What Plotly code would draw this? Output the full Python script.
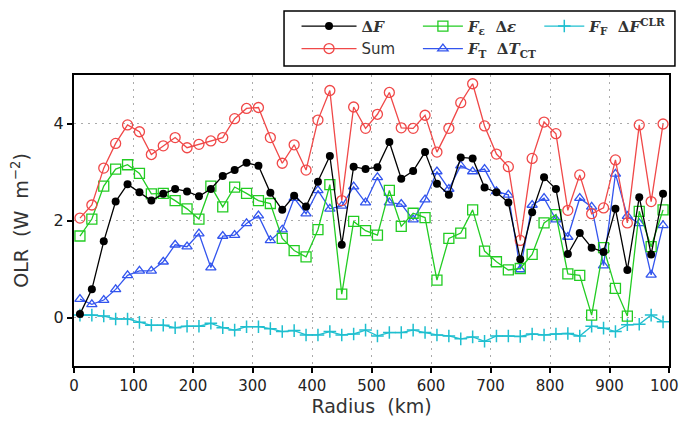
import plotly.graph_objects as go

radius = [10 + 20 * i for i in range(50)]

delta_f = [0.07, 0.58, 1.57, 2.39, 2.75, 2.58, 2.41, 2.55, 2.65, 2.60, 2.50, 2.65, 2.92, 3.04, 3.19, 3.13,
           2.57, 2.22, 2.51, 2.29, 2.80, 3.33, 1.50, 3.11, 3.06, 3.10, 3.62, 2.86, 3.02, 3.41, 2.76, 2.53,
           3.30, 3.28, 2.68, 2.58, 2.37, 1.20, 2.17, 2.89, 2.65, 1.31, 1.74, 1.44, 1.35, 2.24, 0.98, 2.48, 1.30, 2.55]

sum_vals = [2.05, 2.32, 3.08, 3.59, 3.97, 3.83, 3.36, 3.54, 3.71, 3.50, 3.57, 3.64, 3.71, 4.10, 4.31, 4.33,
            3.71, 3.18, 3.56, 3.04, 4.07, 4.68, 2.41, 4.34, 3.90, 4.19, 4.64, 3.91, 3.90, 4.17, 3.41, 3.90,
            4.43, 4.82, 3.95, 3.37, 3.11, 1.59, 3.28, 4.03, 3.79, 2.21, 2.94, 2.14, 2.26, 3.25, 1.95, 3.97, 2.39, 3.99]

f_eps = [1.68, 2.03, 2.71, 3.06, 3.15, 2.97, 2.55, 2.56, 2.41, 2.24, 2.03, 2.71, 2.28, 2.69, 2.56, 2.41,
         2.35, 1.63, 1.38, 1.25, 1.81, 2.74, 0.48, 1.98, 1.79, 1.70, 2.62, 1.88, 2.15, 2.06, 0.77, 1.63,
         1.74, 2.22, 1.37, 1.15, 0.98, 1.01, 1.30, 1.95, 2.12, 0.90, 0.87, 0.05, 1.44, 0.60, 0.03, 2.19, 1.46, 2.22]

f_t = [0.38, 0.27, 0.36, 0.58, 0.87, 0.96, 0.96, 1.15, 1.50, 1.46, 1.73, 1.03, 1.68, 1.70, 1.94, 2.10,
       1.59, 1.81, 2.46, 2.14, 2.62, 2.24, 2.30, 2.70, 2.37, 2.89, 2.37, 2.34, 2.02, 2.43, 3.01, 2.65,
       3.13, 3.01, 3.06, 2.60, 2.53, 0.99, 2.32, 2.46, 2.02, 1.66, 2.46, 2.28, 1.07, 2.96, 2.09, 1.94, 0.88, 1.90]

f_f = [0.05, 0.05, 0.03, -0.03, -0.03, -0.10, -0.16, -0.16, -0.21, -0.18, -0.18, -0.12, -0.21, -0.26, -0.19, -0.19,
       -0.23, -0.29, -0.27, -0.36, -0.36, -0.29, -0.36, -0.34, -0.26, -0.38, -0.31, -0.31, -0.26, -0.31, -0.36, -0.38,
       -0.44, -0.40, -0.49, -0.38, -0.38, -0.39, -0.34, -0.36, -0.34, -0.33, -0.38, -0.18, -0.22, -0.29, -0.15, -0.14, 0.05, -0.09]

x_ticks = [0, 100, 200, 300, 400, 500, 600, 700, 800, 900, 1000]
y_ticks = [0, 2, 4]

SERIF = "font-family:'DejaVu Serif';font-weight:bold"
lbl_df = f"<span style=\"{SERIF}\">Δ<i>F</i></span>"
lbl_sum = "Sum"
lbl_eps = f"<span style=\"{SERIF}\"><i>F</i><sub>ε</sub>  Δ<i>ε</i></span>"
lbl_t = f"<span style=\"{SERIF}\"><i>F</i><sub>T</sub>  Δ<i>T</i><sub>CT</sub></span>"
lbl_f = f"<span style=\"{SERIF}\"><i>F</i><sub>F</sub>  Δ<i>F</i><sup>CLR</sup></span>"

fig = go.Figure()
fig.add_trace(go.Scatter(x=radius, y=f_f, mode="lines+markers", name=lbl_f, legend="legend3",
                         line=dict(color="#1fbfcf", width=1.3),
                         marker=dict(symbol="cross-thin", size=9, line=dict(color="#1fbfcf", width=1.5))))
fig.add_trace(go.Scatter(x=radius, y=f_t, mode="lines+markers", name=lbl_t, legend="legend2",
                         line=dict(color="#3355ee", width=1.3),
                         marker=dict(symbol="triangle-up-open", size=9, color="#3355ee", line=dict(width=1.3))))
fig.add_trace(go.Scatter(x=radius, y=f_eps, mode="lines+markers", name=lbl_eps, legend="legend2",
                         line=dict(color="#22cc22", width=1.3),
                         marker=dict(symbol="square-open", size=10, color="#22cc22", line=dict(width=1.3))))
fig.add_trace(go.Scatter(x=radius, y=sum_vals, mode="lines+markers", name=lbl_sum, legend="legend",
                         line=dict(color="#f04848", width=1.3),
                         marker=dict(symbol="circle-open", size=10, color="#f04848", line=dict(width=1.3))))
fig.add_trace(go.Scatter(x=radius, y=delta_f, mode="lines+markers", name=lbl_df, legend="legend",
                         line=dict(color="black", width=1.3),
                         marker=dict(symbol="circle", size=8, color="black")))

leg_common = dict(orientation="v", yanchor="top", xanchor="left", bgcolor="rgba(0,0,0,0)",
                  font=dict(family="DejaVu Sans", size=15, color="#333"), traceorder="reversed",
                  tracegroupgap=0)

LEG_Y = 1.2241

fig.update_layout(
    width=687, height=438,
    margin=dict(l=66, r=26, t=67, b=80, autoexpand=False),
    paper_bgcolor="white", plot_bgcolor="white",
    legend=dict(x=0.374, y=LEG_Y, itemwidth=55, **leg_common),
    legend2=dict(x=0.578, y=LEG_Y, itemwidth=40, **leg_common),
    legend3=dict(x=0.782, y=LEG_Y, itemwidth=40, **leg_common),
    xaxis=dict(range=[0, 1000], tickvals=x_ticks, ticktext=[str(v) for v in x_ticks],
               showline=True, linecolor="black", linewidth=2, mirror=True,
               ticks="outside", ticklen=5, tickwidth=1.5, tickcolor="black",
               showgrid=True, gridcolor="#aaaaaa", griddash="2px,5px", gridwidth=1.2,
               zeroline=False,
               tickfont=dict(family="DejaVu Sans", size=15, color="#222"),
               title=dict(text="Radius  (km)", font=dict(family="DejaVu Sans", size=19, color="#333"),
                          standoff=5)),
    yaxis=dict(range=[-1, 5], tickvals=y_ticks, ticktext=[str(v) for v in y_ticks],
               showline=True, linecolor="black", linewidth=2, mirror=True,
               ticks="outside", ticklen=5, tickwidth=1.5, tickcolor="black",
               showgrid=True, gridcolor="#aaaaaa", griddash="2px,5px", gridwidth=1.2,
               zeroline=False,
               tickfont=dict(family="DejaVu Sans", size=16, color="#222"),
               title=dict(text="OLR  (W  m<sup>−2</sup>)", font=dict(family="DejaVu Sans", size=19, color="#333"),
                          standoff=21)),
    shapes=[dict(type="rect", xref="paper", yref="paper", x0=0.353, x1=1.010, y0=1.031, y1=1.22,
                 line=dict(color="black", width=1.5), fillcolor="rgba(0,0,0,0)")],
)

fig.write_html("out.html")
